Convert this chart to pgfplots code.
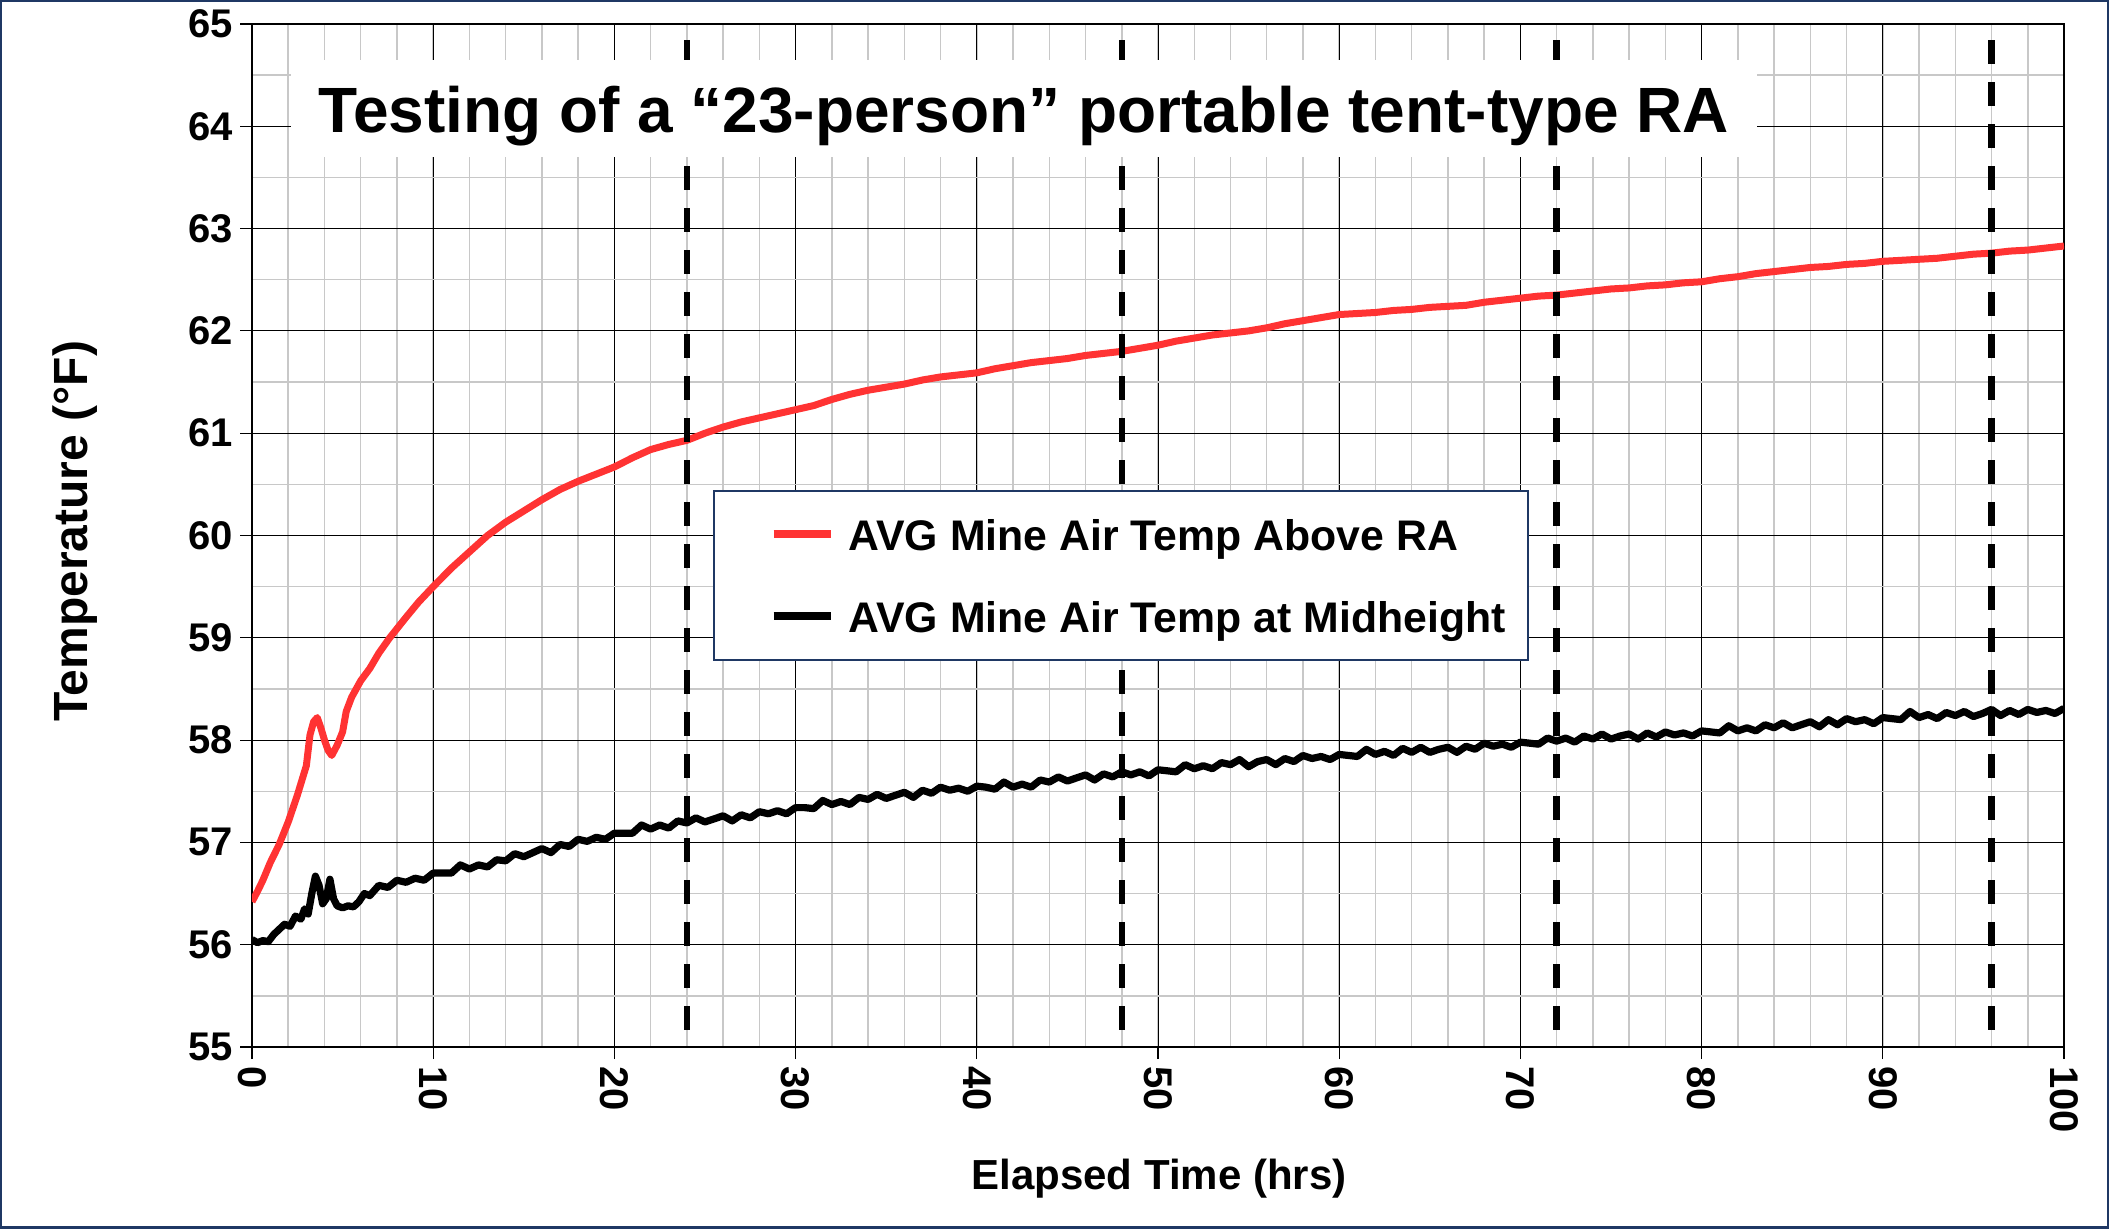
\documentclass[border=0pt]{standalone}
\usepackage{pgfplots}
\pgfplotsset{compat=1.18}
\usepackage{fontspec}
\setmainfont{Liberation Sans}
\definecolor{redline}{RGB}{255,51,51}
\definecolor{frameblue}{RGB}{31,56,100}
\definecolor{minorgray}{RGB}{200,200,200}
\begin{document}
\begin{tikzpicture}
\useasboundingbox (0,0) rectangle (1054.5pt,614pt);
\begin{axis}[
  at={(126pt,90.5pt)}, anchor=south west,
  scale only axis, width=906pt, height=511.5pt,
  xmin=0, xmax=100, ymin=55, ymax=65,
  xtick={0,10,...,100}, ytick={55,56,...,65},
  minor xtick={2,4,...,98}, minor ytick={55.5,56.5,...,64.5},
  grid=both,
  major grid style={black, line width=0.5pt},
  minor grid style={minorgray, line width=0.75pt},
  axis line style={black, line width=1pt},
  tick pos=left, tick align=outside,
  major tick length=6pt, minor tick length=0pt,
  tick style={black, line width=0.6pt},
  /pgf/number format/assume math mode=true,
  ticklabel style={font=\fontsize{20}{24}\selectfont\bfseries},
  xticklabel style={rotate=-90, anchor=west},
  yticklabel style={anchor=east},
  xlabel={Elapsed Time (hrs)},
  xlabel style={font=\fontsize{21}{25}\selectfont\bfseries, at={(axis description cs:0.5006,-0.139)}, anchor=base},
  ylabel={Temperature (°F)},
  ylabel style={font=\fontsize{24}{28}\selectfont\bfseries, at={(axis description cs:-0.091,0.504)}, anchor=base},
  title={Testing of a “23-person” portable tent-type RA},
  title style={at={(axis description cs:0.426,0.8935)}, anchor=base, yshift=-6pt, fill=white,
    font=\fontsize{32}{38}\selectfont\bfseries, inner xsep=14pt, inner ysep=0pt,
    text height=36.5pt, text depth=12pt},
  legend cell align=left,
  legend image code/.code={\path (0pt,0pt); \draw[#1, line width=4pt] (17pt,0pt) -- (45.5pt,0pt);},
  legend style={at={(0.2544,0.5445)}, anchor=north west, draw=frameblue, line width=1pt,
    fill=white, inner xsep=11pt, inner ysep=3pt, row sep=3.5pt, column sep=7pt,
    font=\fontsize{21.4}{25}\selectfont\bfseries,
    nodes={inner sep=0pt, text height=27pt, text depth=10.5pt}},
]
\addplot[redline, line width=3.5pt, line join=round] coordinates {
(0,56.42) (0.3,56.52) (0.6,56.63) (1.0,56.80) (1.5,56.98) (2.0,57.20) (2.5,57.46)
(3.0,57.75) (3.2,58.05) (3.4,58.18) (3.6,58.22) (3.8,58.12) (4.0,58.00) (4.2,57.90)
(4.4,57.85) (4.7,57.95) (5.0,58.08) (5.2,58.28) (5.5,58.42) (6.0,58.58) (6.5,58.70)
(7.0,58.85) (7.6,59.00) (8.5,59.20) (9.2,59.35) (10,59.50) (11,59.68) (12,59.84)
(13,60.00) (14,60.13) (15,60.24) (16,60.35) (17,60.45) (18,60.53) (19,60.60)
(20,60.67) (21,60.76) (22,60.84) (23,60.89) (24,60.93) (25,61.00) (26,61.06)
(27,61.11) (28,61.15) (29,61.19) (30,61.23) (31,61.27) (32,61.33) (33,61.38)
(34,61.42) (35,61.45) (36,61.48) (37,61.52) (38,61.55) (39,61.57) (40,61.59)
(41,61.63) (42,61.66) (43,61.69) (44,61.71) (45,61.73) (46,61.76) (47,61.78)
(48,61.80) (49,61.83) (50,61.86) (51,61.90) (52,61.93) (53,61.96) (54,61.98)
(55,62.00) (56,62.03) (57,62.07) (58,62.10) (59,62.13) (60,62.16) (61,62.17)
(62,62.18) (63,62.20) (64,62.21) (65,62.23) (66,62.24) (67,62.25) (68,62.28)
(69,62.30) (70,62.32) (71,62.34) (72,62.35) (73,62.37) (74,62.39) (75,62.41)
(76,62.42) (77,62.44) (78,62.45) (79,62.47) (80,62.48) (81,62.51) (82,62.53)
(83,62.56) (84,62.58) (85,62.60) (86,62.62) (87,62.63) (88,62.65) (89,62.66)
(90,62.68) (91,62.69) (92,62.70) (93,62.71) (94,62.73) (95,62.75) (96,62.76)
(97,62.78) (98,62.79) (99,62.81) (100,62.83)
};
\addlegendentry{AVG Mine Air Temp Above RA}
\addplot[black, line width=3.6pt, line join=round] coordinates {
(0,56.05) (0.3,56.02) (0.6,56.04) (0.9,56.03) (1.2,56.10) (1.5,56.15) (1.8,56.20)
(2.1,56.18) (2.4,56.28) (2.7,56.25) (2.9,56.35) (3.1,56.30) (3.3,56.50) (3.5,56.67)
(3.7,56.58) (3.9,56.40) (4.1,56.45) (4.3,56.64) (4.5,56.45) (4.7,56.38) (5.0,56.36)
(5.3,56.38) (5.6,56.37) (5.9,56.42) (6.2,56.50) (6.5,56.48)
(7.0,56.58) (7.5,56.56) (8.0,56.63) (8.5,56.61) (9.0,56.65) (9.5,56.63) (10.0,56.70)
(10.5,56.70) (11.0,56.70) (11.5,56.78) (12.0,56.74) (12.5,56.78) (13.0,56.76) (13.5,56.83)
(14.0,56.82) (14.5,56.89) (15.0,56.86) (15.5,56.90) (16.0,56.94) (16.5,56.90) (17.0,56.98)
(17.5,56.96) (18.0,57.03) (18.5,57.01) (19.0,57.05) (19.5,57.03) (20.0,57.09) (20.5,57.09)
(21.0,57.09) (21.5,57.17) (22.0,57.13) (22.5,57.17) (23.0,57.14) (23.5,57.21) (24.0,57.19)
(24.5,57.24) (25.0,57.20) (25.5,57.23) (26.0,57.26) (26.5,57.21) (27.0,57.27) (27.5,57.24)
(28.0,57.30) (28.5,57.28) (29.0,57.31) (29.5,57.28) (30.0,57.34) (30.5,57.34) (31.0,57.33)
(31.5,57.41) (32.0,57.37) (32.5,57.40) (33.0,57.37) (33.5,57.44) (34.0,57.42) (34.5,57.47)
(35.0,57.43) (35.5,57.46) (36.0,57.49) (36.5,57.44) (37.0,57.51) (37.5,57.48) (38.0,57.54)
(38.5,57.51) (39.0,57.53) (39.5,57.50) (40.0,57.55) (40.5,57.54) (41.0,57.52) (41.5,57.59)
(42.0,57.54) (42.5,57.57) (43.0,57.54) (43.5,57.61) (44.0,57.59) (44.5,57.64) (45.0,57.60)
(45.5,57.63) (46.0,57.66) (46.5,57.61) (47.0,57.67) (47.5,57.64) (48.0,57.69) (48.5,57.66)
(49.0,57.69) (49.5,57.65) (50.0,57.71) (50.5,57.70) (51.0,57.69) (51.5,57.76) (52.0,57.72)
(52.5,57.75) (53.0,57.72) (53.5,57.78) (54.0,57.76) (54.5,57.81) (55.0,57.74) (55.5,57.79)
(56.0,57.81) (56.5,57.76) (57.0,57.82) (57.5,57.79) (58.0,57.85) (58.5,57.82) (59.0,57.84)
(59.5,57.81) (60.0,57.86) (60.5,57.85) (61.0,57.84) (61.5,57.91) (62.0,57.86) (62.5,57.89)
(63.0,57.85) (63.5,57.92) (64.0,57.88) (64.5,57.93) (65.0,57.88) (65.5,57.91) (66.0,57.93)
(66.5,57.88) (67.0,57.94) (67.5,57.91) (68.0,57.97) (68.5,57.94) (69.0,57.96) (69.5,57.93)
(70.0,57.98) (70.5,57.97) (71.0,57.96) (71.5,58.02) (72.0,57.99) (72.5,58.02) (73.0,57.98)
(73.5,58.04) (74.0,58.01) (74.5,58.06) (75.0,58.01) (75.5,58.04) (76.0,58.06) (76.5,58.01)
(77.0,58.07) (77.5,58.03) (78.0,58.08) (78.5,58.05) (79.0,58.07) (79.5,58.04) (80.0,58.09)
(80.5,58.08) (81.0,58.07) (81.5,58.14) (82.0,58.09) (82.5,58.12) (83.0,58.09) (83.5,58.15)
(84.0,58.12) (84.5,58.17) (85.0,58.12) (85.5,58.15) (86.0,58.18) (86.5,58.13) (87.0,58.20)
(87.5,58.15) (88.0,58.21) (88.5,58.18) (89.0,58.20) (89.5,58.16) (90.0,58.22) (90.5,58.21)
(91.0,58.20) (91.5,58.28) (92.0,58.22) (92.5,58.25) (93.0,58.21) (93.5,58.27) (94.0,58.24)
(94.5,58.28) (95.0,58.23) (95.5,58.26) (96.0,58.30) (96.5,58.24) (97.0,58.29) (97.5,58.25)
(98.0,58.30) (98.5,58.27) (99.0,58.29) (99.5,58.26) (100.0,58.31)
};
\addlegendentry{AVG Mine Air Temp at Midheight}
\addplot[forget plot, black, line width=3.2pt, dash pattern=on 12pt off 9pt] coordinates {(24,55.17) (24,64.84)};
\addplot[forget plot, black, line width=3.2pt, dash pattern=on 12pt off 9pt] coordinates {(48,55.17) (48,64.84)};
\addplot[forget plot, black, line width=3.2pt, dash pattern=on 12pt off 9pt] coordinates {(72,55.17) (72,64.84)};
\addplot[forget plot, black, line width=3.2pt, dash pattern=on 12pt off 9pt] coordinates {(96,55.17) (96,64.84)};
\end{axis}
\draw[frameblue, line width=2pt] (0,0) rectangle (1054.5pt,614pt);
\end{tikzpicture}
\end{document}
